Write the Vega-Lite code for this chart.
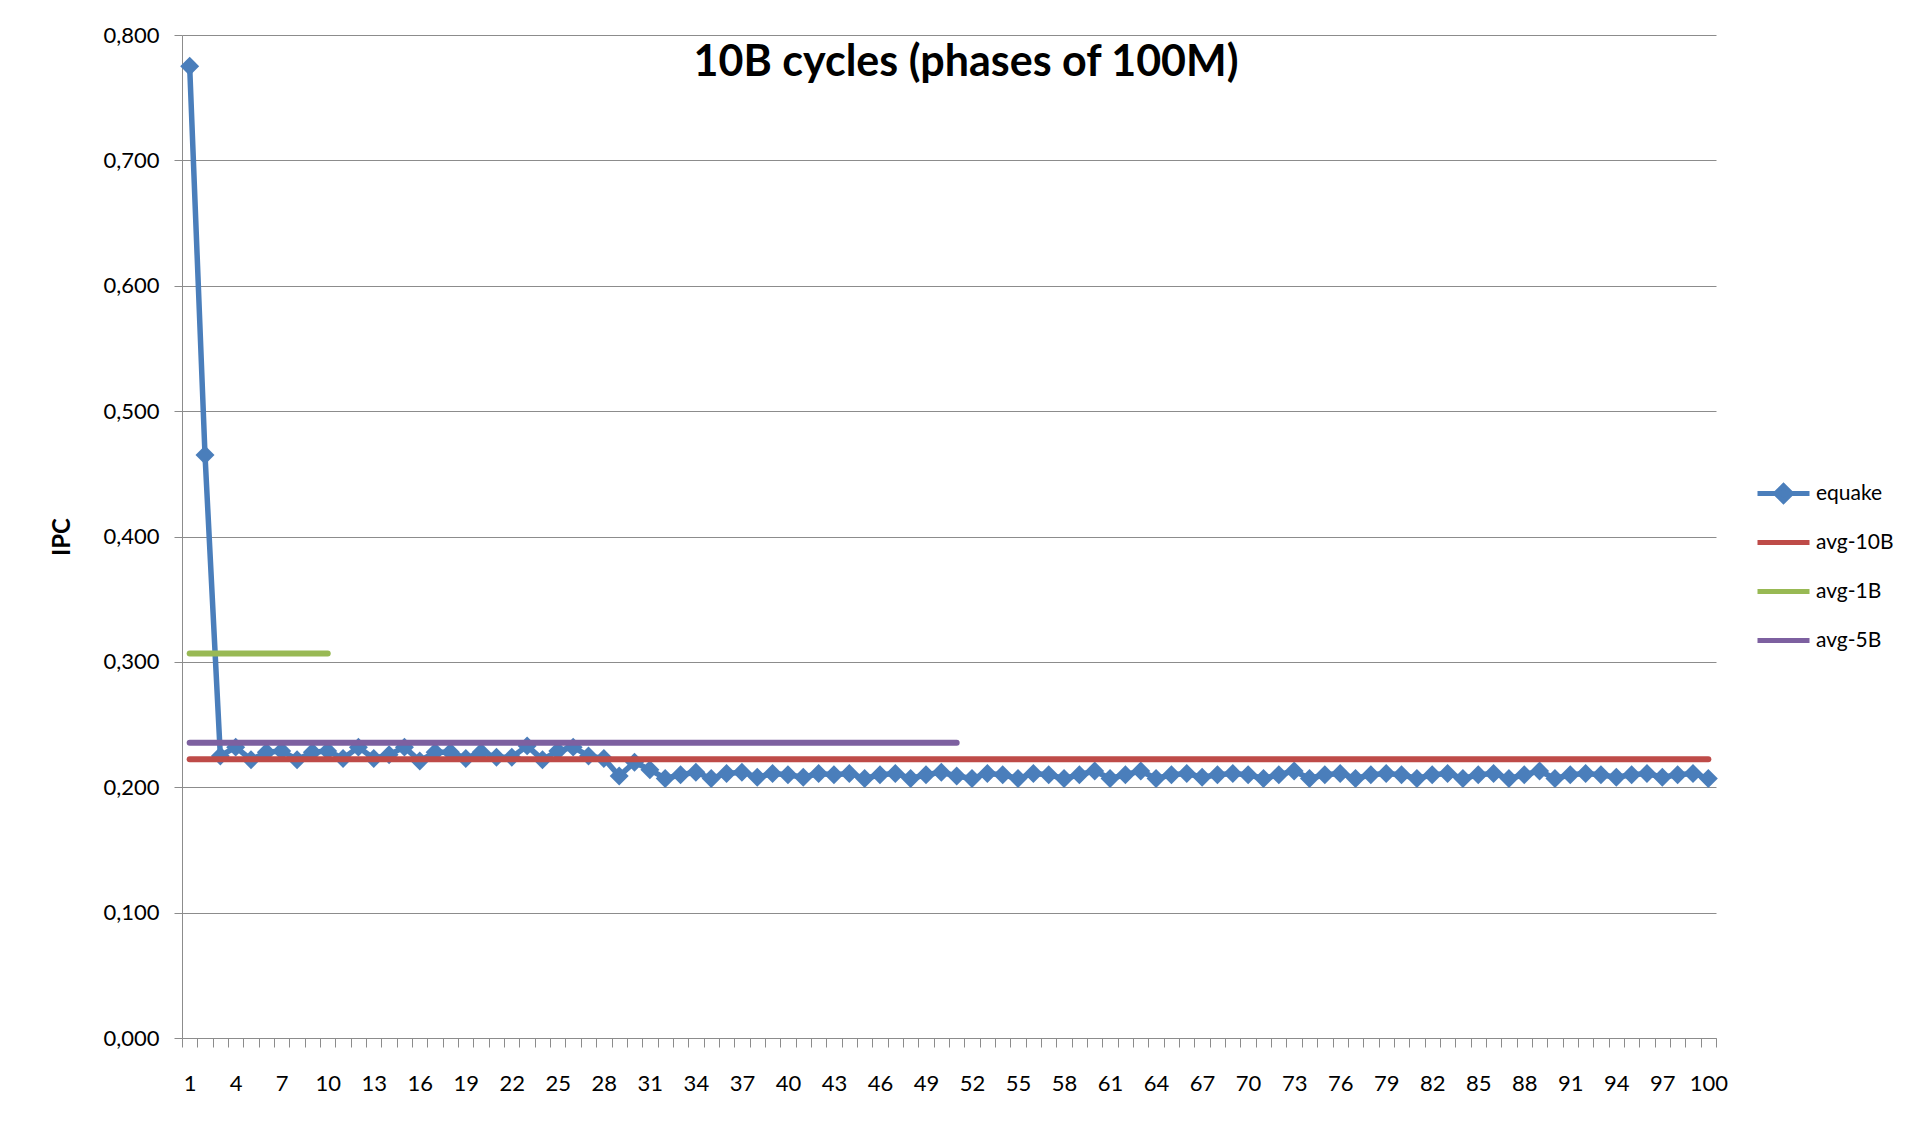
{
  "$schema": "https://vega.github.io/schema/vega-lite/v6.json",
  "autosize": {"type": "none"},
  "width": 1534,
  "height": 1003,
  "padding": {"left": 182, "top": 35, "right": 215, "bottom": 84},
  "background": "white",
  "config": {
    "view": {"stroke": null},
    "font": "Lato",
    "axis": {"labelFont": "Lato", "titleFont": "Lato", "labelColor": "#000000", "titleColor": "#000000"}
  },
  "title": {
    "text": "10B cycles (phases of 100M)",
    "font": "Lato",
    "fontSize": 43,
    "fontWeight": "bold",
    "color": "#000000",
    "anchor": "middle",
    "frame": "group",
    "baseline": "alphabetic",
    "offset": -39,
    "dy": 56,
    "dx": 17
  },
  "datasets": {
    "equake": [
      {"phase": 1, "series": "equake", "ipc": 0.775},
      {"phase": 2, "series": "equake", "ipc": 0.465},
      {"phase": 3, "series": "equake", "ipc": 0.225},
      {"phase": 4, "series": "equake", "ipc": 0.232},
      {"phase": 5, "series": "equake", "ipc": 0.222},
      {"phase": 6, "series": "equake", "ipc": 0.228},
      {"phase": 7, "series": "equake", "ipc": 0.229},
      {"phase": 8, "series": "equake", "ipc": 0.222},
      {"phase": 9, "series": "equake", "ipc": 0.228},
      {"phase": 10, "series": "equake", "ipc": 0.229},
      {"phase": 11, "series": "equake", "ipc": 0.223},
      {"phase": 12, "series": "equake", "ipc": 0.232},
      {"phase": 13, "series": "equake", "ipc": 0.223},
      {"phase": 14, "series": "equake", "ipc": 0.226},
      {"phase": 15, "series": "equake", "ipc": 0.232},
      {"phase": 16, "series": "equake", "ipc": 0.221},
      {"phase": 17, "series": "equake", "ipc": 0.228},
      {"phase": 18, "series": "equake", "ipc": 0.228},
      {"phase": 19, "series": "equake", "ipc": 0.223},
      {"phase": 20, "series": "equake", "ipc": 0.228},
      {"phase": 21, "series": "equake", "ipc": 0.224},
      {"phase": 22, "series": "equake", "ipc": 0.224},
      {"phase": 23, "series": "equake", "ipc": 0.233},
      {"phase": 24, "series": "equake", "ipc": 0.222},
      {"phase": 25, "series": "equake", "ipc": 0.229},
      {"phase": 26, "series": "equake", "ipc": 0.232},
      {"phase": 27, "series": "equake", "ipc": 0.225},
      {"phase": 28, "series": "equake", "ipc": 0.223},
      {"phase": 29, "series": "equake", "ipc": 0.209},
      {"phase": 30, "series": "equake", "ipc": 0.220},
      {"phase": 31, "series": "equake", "ipc": 0.214},
      {"phase": 32, "series": "equake", "ipc": 0.207},
      {"phase": 33, "series": "equake", "ipc": 0.210},
      {"phase": 34, "series": "equake", "ipc": 0.212},
      {"phase": 35, "series": "equake", "ipc": 0.207},
      {"phase": 36, "series": "equake", "ipc": 0.211},
      {"phase": 37, "series": "equake", "ipc": 0.212},
      {"phase": 38, "series": "equake", "ipc": 0.208},
      {"phase": 39, "series": "equake", "ipc": 0.211},
      {"phase": 40, "series": "equake", "ipc": 0.210},
      {"phase": 41, "series": "equake", "ipc": 0.208},
      {"phase": 42, "series": "equake", "ipc": 0.211},
      {"phase": 43, "series": "equake", "ipc": 0.210},
      {"phase": 44, "series": "equake", "ipc": 0.211},
      {"phase": 45, "series": "equake", "ipc": 0.207},
      {"phase": 46, "series": "equake", "ipc": 0.210},
      {"phase": 47, "series": "equake", "ipc": 0.211},
      {"phase": 48, "series": "equake", "ipc": 0.207},
      {"phase": 49, "series": "equake", "ipc": 0.210},
      {"phase": 50, "series": "equake", "ipc": 0.212},
      {"phase": 51, "series": "equake", "ipc": 0.209},
      {"phase": 52, "series": "equake", "ipc": 0.207},
      {"phase": 53, "series": "equake", "ipc": 0.211},
      {"phase": 54, "series": "equake", "ipc": 0.210},
      {"phase": 55, "series": "equake", "ipc": 0.207},
      {"phase": 56, "series": "equake", "ipc": 0.211},
      {"phase": 57, "series": "equake", "ipc": 0.210},
      {"phase": 58, "series": "equake", "ipc": 0.207},
      {"phase": 59, "series": "equake", "ipc": 0.210},
      {"phase": 60, "series": "equake", "ipc": 0.213},
      {"phase": 61, "series": "equake", "ipc": 0.207},
      {"phase": 62, "series": "equake", "ipc": 0.210},
      {"phase": 63, "series": "equake", "ipc": 0.213},
      {"phase": 64, "series": "equake", "ipc": 0.207},
      {"phase": 65, "series": "equake", "ipc": 0.210},
      {"phase": 66, "series": "equake", "ipc": 0.211},
      {"phase": 67, "series": "equake", "ipc": 0.208},
      {"phase": 68, "series": "equake", "ipc": 0.210},
      {"phase": 69, "series": "equake", "ipc": 0.211},
      {"phase": 70, "series": "equake", "ipc": 0.210},
      {"phase": 71, "series": "equake", "ipc": 0.207},
      {"phase": 72, "series": "equake", "ipc": 0.210},
      {"phase": 73, "series": "equake", "ipc": 0.213},
      {"phase": 74, "series": "equake", "ipc": 0.207},
      {"phase": 75, "series": "equake", "ipc": 0.210},
      {"phase": 76, "series": "equake", "ipc": 0.211},
      {"phase": 77, "series": "equake", "ipc": 0.207},
      {"phase": 78, "series": "equake", "ipc": 0.210},
      {"phase": 79, "series": "equake", "ipc": 0.211},
      {"phase": 80, "series": "equake", "ipc": 0.210},
      {"phase": 81, "series": "equake", "ipc": 0.207},
      {"phase": 82, "series": "equake", "ipc": 0.210},
      {"phase": 83, "series": "equake", "ipc": 0.211},
      {"phase": 84, "series": "equake", "ipc": 0.207},
      {"phase": 85, "series": "equake", "ipc": 0.210},
      {"phase": 86, "series": "equake", "ipc": 0.211},
      {"phase": 87, "series": "equake", "ipc": 0.207},
      {"phase": 88, "series": "equake", "ipc": 0.210},
      {"phase": 89, "series": "equake", "ipc": 0.213},
      {"phase": 90, "series": "equake", "ipc": 0.207},
      {"phase": 91, "series": "equake", "ipc": 0.210},
      {"phase": 92, "series": "equake", "ipc": 0.211},
      {"phase": 93, "series": "equake", "ipc": 0.210},
      {"phase": 94, "series": "equake", "ipc": 0.208},
      {"phase": 95, "series": "equake", "ipc": 0.210},
      {"phase": 96, "series": "equake", "ipc": 0.211},
      {"phase": 97, "series": "equake", "ipc": 0.208},
      {"phase": 98, "series": "equake", "ipc": 0.210},
      {"phase": 99, "series": "equake", "ipc": 0.211},
      {"phase": 100, "series": "equake", "ipc": 0.207}
    ],
    "averages": [
      {"phase": 1, "series": "avg-10B", "ipc": 0.2223},
      {"phase": 100, "series": "avg-10B", "ipc": 0.2223},
      {"phase": 1, "series": "avg-1B", "ipc": 0.3067},
      {"phase": 10, "series": "avg-1B", "ipc": 0.3067},
      {"phase": 1, "series": "avg-5B", "ipc": 0.2354},
      {"phase": 51, "series": "avg-5B", "ipc": 0.2354}
    ]
  },
  "encoding": {
    "x": {
      "field": "phase",
      "type": "ordinal",
      "scale": {"paddingInner": 0, "paddingOuter": 0},
      "axis": {
        "title": null,
        "labelAngle": 0,
        "labelFontSize": 22,
        "labelOverlap": false,
        "labelPadding": 26,
        "labelExpr": "(datum.value - 1) % 3 == 0 ? datum.value : ''",
        "tickBand": "extent",
        "tickSize": 9,
        "tickColor": "#8c8c8c",
        "domainColor": "#8c8c8c",
        "tickWidth": 1,
        "domainWidth": 1,
        "grid": false
      }
    },
    "y": {
      "field": "ipc",
      "type": "quantitative",
      "scale": {"domain": [0, 0.8], "nice": false},
      "axis": {
        "title": "IPC",
        "titleFontSize": 24,
        "titleFontWeight": "bold",
        "titlePadding": 28,
        "values": [0, 0.1, 0.2, 0.3, 0.4, 0.5, 0.6, 0.7, 0.8],
        "labelExpr": "replace(format(datum.value, '.3f'), '.', ',')",
        "labelFontSize": 22,
        "labelPadding": 15,
        "tickSize": 8,
        "tickColor": "#8c8c8c",
        "domainColor": "#8c8c8c",
        "gridColor": "#8c8c8c",
        "grid": true
      }
    },
    "color": {
      "field": "series",
      "type": "nominal",
      "scale": {
        "domain": ["equake", "avg-10B", "avg-1B", "avg-5B"],
        "range": ["#4a7ebb", "#be4b48", "#98b954", "#7d60a0"]
      },
      "legend": {
        "title": null,
        "orient": "none",
        "legendX": 1573,
        "legendY": 430,
        "padding": 0,
        "symbolSize": 2704,
        "symbolStrokeWidth": 5,
        "labelFontSize": 21,
        "labelFont": "Lato",
        "labelColor": "#000000",
        "labelOffset": 4,
        "rowPadding": 2,
        "gridAlign": "all",
        "encode": {
          "symbols": {
            "update": {
              "shape": {"signal": "datum.value === 'equake' ? 'M-1,0L1,0M0,-0.3L0.3,0L0,0.3L-0.3,0Z' : 'M-1,0L1,0'"},
              "fill": {"scale": "color", "field": "value"},
              "stroke": {"scale": "color", "field": "value"},
              "strokeWidth": {"value": 5},
              "opacity": {"value": 1}
            }
          }
        }
      }
    }
  },
  "layer": [
    {
      "data": {"name": "equake"},
      "mark": {"type": "line", "strokeWidth": 5.5, "strokeCap": "round", "strokeJoin": "round", "point": {"shape": "diamond", "size": 360, "filled": true, "opacity": 1}}
    },
    {
      "data": {"name": "averages"},
      "mark": {"type": "line", "strokeWidth": 6, "strokeCap": "round"},
      "encoding": {"detail": {"field": "series"}}
    }
  ]
}
